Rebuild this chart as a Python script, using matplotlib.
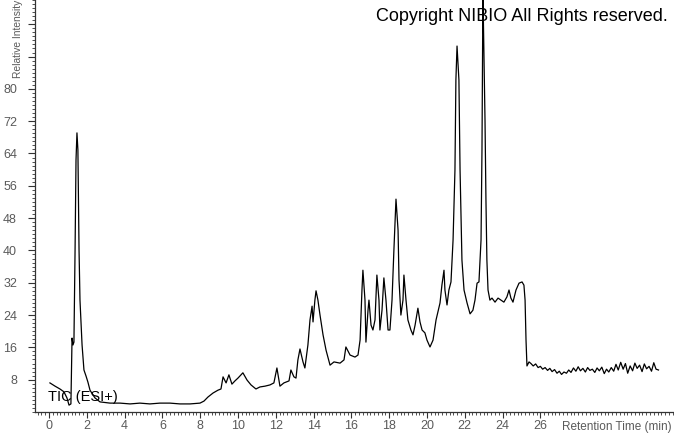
import matplotlib
matplotlib.use("Agg")
import matplotlib.pyplot as plt
from matplotlib.ticker import MultipleLocator, FixedLocator

# retention time (min) and relative intensity
rt_main = [0.05, 0.32, 0.58, 0.79, 0.95, 1.06, 1.16, 1.22, 1.27, 1.32, 1.38, 1.43, 1.48, 1.53, 1.59,
           1.64, 1.75, 1.85, 1.96, 2.06, 2.17, 2.43, 2.70, 3.23, 3.76, 4.29, 4.81, 5.34, 5.87, 6.40,
           6.93, 7.46, 7.99, 8.20, 8.41, 8.68, 8.94, 9.10, 9.21, 9.37, 9.52, 9.68, 9.84, 10.00, 10.26,
           10.48, 10.69, 10.95, 11.16, 11.43, 11.69, 11.90, 12.06, 12.22, 12.43, 12.70, 12.80, 12.96,
           13.07, 13.17, 13.28, 13.44, 13.54, 13.70, 13.81, 13.92, 13.97, 14.07, 14.13, 14.23, 14.34,
           14.50, 14.66, 14.87, 15.08, 15.40, 15.61, 15.71, 15.93, 16.19, 16.35, 16.46, 16.56, 16.61,
           16.72, 16.77, 16.88, 16.93, 17.04, 17.14, 17.25, 17.35, 17.46, 17.51, 17.62, 17.72, 17.83,
           17.94, 18.04, 18.15, 18.25, 18.36, 18.47, 18.52, 18.62, 18.73, 18.78, 18.89, 18.99, 19.15,
           19.26, 19.37, 19.52, 19.63, 19.74, 19.89, 20.00, 20.16, 20.32, 20.48, 20.69, 20.79, 20.90,
           20.95, 21.06, 21.16, 21.27, 21.38, 21.48, 21.53, 21.59, 21.69, 21.75, 21.85, 21.96, 22.12,
           22.28, 22.43, 22.54, 22.65, 22.75, 22.86, 22.91, 22.96, 23.02, 23.07, 23.12, 23.17, 23.23,
           23.33, 23.44, 23.60, 23.76, 23.92, 24.07, 24.23, 24.34, 24.44, 24.55, 24.71, 24.87, 25.03,
           25.13, 25.19, 25.24, 25.29, 25.40]
int_main = [7.2, 6.4, 5.7, 5.0, 3.5, 1.7, 2.0, 18.3, 16.6, 17.3, 40.1, 62.4, 69.1, 64.9, 40.1,
            27.7, 16.6, 10.4, 8.9, 7.4, 5.4, 3.5, 2.5, 2.2, 2.2, 2.0, 2.2, 2.0, 2.2, 2.2,
            2.0, 2.0, 2.2, 2.7, 3.7, 4.7, 5.4, 5.7, 8.7, 7.2, 9.2, 6.9, 7.7, 8.4, 9.7,
            7.9, 6.7, 5.7, 6.2, 6.4, 6.7, 7.2, 10.9, 6.4, 7.2, 7.7, 10.4, 8.7,
            8.4, 12.9, 15.6, 12.4, 10.9, 16.6, 22.8, 26.2, 22.3, 27.7, 30.0, 27.7, 24.0,
            19.1, 15.3, 11.6, 12.4, 12.1, 12.9, 16.1, 14.1, 13.6, 14.1, 17.8, 30.2, 35.1,
            27.7, 17.3, 25.2, 27.7, 21.5, 20.3, 22.8, 33.9, 27.7, 20.3, 25.2, 33.2, 27.7,
            20.3, 20.3, 27.7, 40.1, 52.7, 45.0, 32.7, 24.0, 27.7, 33.9, 27.7, 22.8, 20.3,
            19.1, 21.5, 25.7, 22.3, 20.3, 19.6, 17.8, 16.1, 17.8, 22.8, 27.0, 31.4, 35.1,
            30.2, 26.5, 30.2, 32.2, 42.6, 59.9, 82.2, 90.6, 82.2, 59.9, 37.6, 30.2, 27.0,
            24.3, 25.2, 27.7, 31.9, 32.2, 42.6, 64.9, 104.0, 87.1, 72.3, 52.5, 37.6, 30.2,
            27.7, 28.2, 27.2, 28.2, 27.7, 27.2, 28.5, 30.2, 28.2, 27.2, 30.2, 31.9, 32.2,
            31.4, 27.7, 17.8, 11.4, 12.4]

# noisy baseline after 25.4 min
rt_tail = [25.50, 25.62, 25.75, 25.88, 26.00, 26.12, 26.25, 26.38, 26.50, 26.62, 26.75, 26.88,
           27.00, 27.12, 27.25, 27.38, 27.50, 27.62, 27.75, 27.88, 28.00, 28.12, 28.25, 28.38,
           28.50, 28.62, 28.75, 28.88, 29.00, 29.12, 29.25, 29.38, 29.50, 29.62, 29.75, 29.88,
           30.00, 30.12, 30.25, 30.38, 30.50, 30.62, 30.75, 30.88, 31.00, 31.12, 31.25, 31.38,
           31.50, 31.62, 31.75, 31.88, 32.00, 32.12, 32.25]
int_tail = [12.0, 11.4, 11.9, 11.0, 11.3, 10.6, 11.0, 10.3, 10.8, 10.0, 10.5, 9.6,
            10.1, 9.3, 9.9, 9.6, 10.4, 9.8, 10.9, 10.1, 11.2, 10.2, 10.8, 9.9,
            11.0, 10.3, 10.6, 9.8, 10.9, 10.2, 11.1, 9.5, 10.6, 9.9, 11.0, 10.1,
            11.8, 10.4, 12.3, 10.6, 12.0, 9.6, 11.4, 10.2, 12.1, 10.8, 11.6, 10.0,
            11.9, 10.7, 11.3, 10.1, 12.2, 10.6, 10.4]

y_ticks = [8, 16, 24, 32, 40, 48, 56, 64, 72, 80]
x_ticks = [0, 2, 4, 6, 8, 10, 12, 14, 16, 18, 20, 22, 24, 26]

rt = rt_main + rt_tail
inten = int_main + int_tail

label_gray = '#5a5a5a'
plt.rcParams['font.family'] = ['Liberation Sans', 'DejaVu Sans']

fig = plt.figure(figsize=(6.74, 4.34), dpi=100)
ax = fig.add_axes([35/674, 22/434, 639/674, 412/434])
ax.plot(rt, inten, color='black', lw=0.9)

ax.set_xlim(-0.74, 33.07)
ax.set_ylim(0, 102)

for s in ['top', 'right']:
    ax.spines[s].set_visible(False)
for s in ['left', 'bottom']:
    ax.spines[s].set_color('#333333')
    ax.spines[s].set_linewidth(0.9)

ax.yaxis.set_major_locator(FixedLocator(y_ticks + [88, 96]))
ax.set_yticklabels([str(v) for v in y_ticks] + ['', ''])
ax.yaxis.set_minor_locator(MultipleLocator(1))
ax.xaxis.set_major_locator(FixedLocator(x_ticks))
ax.set_xticklabels([str(v) for v in x_ticks])
ax.xaxis.set_minor_locator(MultipleLocator(0.2))

ax.tick_params(which='major', length=4, width=0.8, color='#333333', labelsize=9,
               labelcolor=label_gray, pad=1.5)
ax.tick_params(which='minor', length=2, width=0.6, color='#333333')
ax.tick_params(axis='y', which='major', length=5, pad=8)

fig.text(0.997, 7/434, 'Retention Time (min)', ha='right', va='center',
         fontsize=8.5, color=label_gray)
fig.text(18/674, (434 - 78)/434, 'Relative Intensity', rotation=90, ha='center',
         va='bottom', fontsize=7.4, color=label_gray)
fig.text(48/674, (434 - 401)/434, 'TIC (ESI+)', ha='left', va='baseline',
         fontsize=10.5, color='black')
fig.text(668/674, (434 - 21)/434, 'Copyright NIBIO All Rights reserved.', ha='right',
         va='baseline', fontsize=13, color='black')

fig.savefig('out.png', dpi=100)
